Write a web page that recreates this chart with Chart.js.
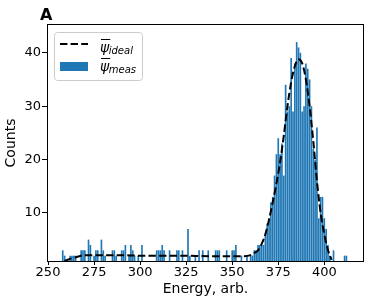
<!DOCTYPE html>
<html>
<head>
<meta charset="utf-8">
<script src="https://cdn.jsdelivr.net/npm/chart.js@4"></script>
<style>
  html, body { margin: 0; padding: 0; background: #fff; }
</style>
</head>
<body>
<canvas id="myChart" width="373" height="304"></canvas>
<script>
// histogram bins (energy, counts)
var binEnergy = [
    258, 259, 262, 263, 264, 265, 268, 269, 270, 272,
    273, 275, 276, 277, 279, 280, 281, 285, 286, 287,
    290, 291, 292, 294, 295, 296, 297, 299, 301, 309,
    310, 311, 312, 313, 316, 320, 321, 323, 326, 327,
    330, 332, 334, 337, 341, 342, 343, 347, 350, 351,
    352, 355, 358, 360, 361, 362, 363, 364, 365, 366,
    367, 368, 369, 370, 371, 372, 373, 374, 375, 376,
    377, 378, 379, 380, 381, 382, 383, 384, 385, 386,
    387, 388, 389, 390, 391, 392, 393, 394, 395, 396,
    397, 398, 399, 400, 401, 402, 403, 405, 411, 412
];
var binCount = [
    3, 2, 2, 2, 2, 2, 3, 3, 3, 5,
    4, 2, 3, 3, 5, 3, 2, 3, 3, 2,
    3, 3, 4, 2, 4, 3, 2, 2, 4, 3,
    3, 3, 4, 3, 3, 3, 3, 3, 7, 2,
    2, 3, 3, 3, 3, 3, 3, 3, 3, 3,
    4, 2, 2, 2, 2, 3, 3, 4, 4, 4,
    4, 6, 8, 9, 12, 13, 17, 21, 24, 21,
    23, 17, 34, 29, 30, 39, 29, 38, 42, 41,
    40, 29, 30, 38, 37, 35, 30, 22, 20, 26,
    9, 13, 13, 9, 7, 4, 2, 3, 2, 2
];

// ideal curve (dashed)
var idealEnergy = [259, 262, 266, 270, 280, 290, 300, 310, 320, 330, 340, 350, 356, 360, 362, 364, 366, 368,
    370, 372, 374, 376, 378, 380, 382, 384, 386, 388, 390, 392, 394, 396, 398, 400, 402, 404];
var idealValue = [1.0, 1.4, 1.8, 2.1, 2.1, 2.1, 2.0, 2.0, 2.0, 1.95, 1.9, 1.9, 1.9, 2.1, 2.5, 3.0, 4.2, 6.0,
    8.8, 12, 15.5, 19.5, 24.5, 30, 34.5, 37.5, 38.8, 38, 35, 30, 23.5, 16, 10, 6, 3, 1.2];

var FONT = 'DejaVu Sans';
var barColor = '#1f77b4';
var dash = [7.4, 3.2];

function drawPsi(ctx, x, y, sub) {
    ctx.fillStyle = '#000';
    ctx.font = 'italic 14px "' + FONT + '"';
    ctx.fillText('ψ', x, y);
    var w = ctx.measureText('ψ').width;
    ctx.fillRect(x + 1, y - 13, w, 1);
    ctx.font = 'italic 10px "' + FONT + '"';
    ctx.fillText(sub, x + w - 0.5, y + 2);
}

var extras = {
    id: 'extras',
    afterDatasetsDraw: function (chart) {
        var ctx = chart.ctx, a = chart.chartArea;
        ctx.save();
        // frame
        ctx.strokeStyle = '#000';
        ctx.lineWidth = 1;
        ctx.strokeRect(a.left - 0.5, a.top - 0.5, a.right - a.left + 1, a.bottom - a.top + 1);

        // panel letter
        ctx.fillStyle = '#000';
        ctx.textAlign = 'left';
        ctx.textBaseline = 'alphabetic';
        ctx.font = 'bold 16px "' + FONT + '"';
        ctx.fillText('A', 40, 20);

        // legend
        ctx.beginPath();
        if (ctx.roundRect) ctx.roundRect(54.5, 32.5, 88, 48, 3);
        else ctx.rect(54.5, 32.5, 88, 48);
        ctx.fillStyle = 'rgba(255,255,255,0.8)';
        ctx.fill();
        ctx.strokeStyle = '#cccccc';
        ctx.stroke();

        ctx.setLineDash(dash);
        ctx.strokeStyle = '#000';
        ctx.lineWidth = 2;
        ctx.beginPath();
        ctx.moveTo(60, 44);
        ctx.lineTo(88, 44);
        ctx.stroke();
        ctx.setLineDash([]);

        ctx.fillStyle = barColor;
        ctx.fillRect(60, 62, 28, 9);

        drawPsi(ctx, 100, 52, 'ideal');
        drawPsi(ctx, 100, 71, 'meas');
        ctx.restore();
    }
};

var ctx = document.getElementById('myChart').getContext('2d');
var myChart = new Chart(ctx, {
    type: 'bar',
    data: {
        datasets: [{
            type: 'line',
            label: 'ψ ideal',
            data: idealEnergy.map(function (e, i) { return {x: e, y: idealValue[i]}; }),
            borderColor: '#000',
            borderWidth: 2,
            borderDash: dash,
            pointRadius: 0,
            fill: false,
            cubicInterpolationMode: 'monotone',
            order: 0
        }, {
            type: 'bar',
            label: 'ψ meas',
            data: binEnergy.map(function (e, i) { return {x: e, y: binCount[i]}; }),
            backgroundColor: barColor,
            borderWidth: 0,
            barPercentage: 0.9,
            categoryPercentage: 1,
            order: 1
        }]
    },
    options: {
        responsive: false,
        animation: false,
        devicePixelRatio: 1,
        layout: {padding: {top: 25, right: 10, left: 0, bottom: 0}},
        plugins: {
            legend: {display: false},
            tooltip: {enabled: false}
        },
        scales: {
            x: {
                type: 'linear',
                min: 250,
                max: 421,
                offset: false,
                afterFit: function (s) { s.height = 43; },
                grid: {display: true, offset: false, drawOnChartArea: false, drawTicks: true, tickLength: 4, color: '#000'},
                border: {display: false},
                ticks: {stepSize: 25, includeBounds: false, padding: 0, color: '#000', maxRotation: 0,
                    font: {family: FONT, size: 13}},
                title: {display: true, text: 'Energy, arb.', color: '#000',
                    font: {family: FONT, size: 14}, padding: {top: 0, bottom: 6}}
            },
            y: {
                min: 1,
                max: 45.2,
                afterFit: function (s) { s.width = 48; },
                grid: {display: true, drawOnChartArea: false, drawTicks: true, tickLength: 6, color: '#000'},
                border: {display: false},
                ticks: {stepSize: 10, includeBounds: false, padding: 1, color: '#000',
                    font: {family: FONT, size: 13}},
                title: {display: true, text: 'Counts', color: '#000',
                    font: {family: FONT, size: 14}, padding: {top: 3, bottom: 0}}
            }
        }
    },
    plugins: [extras]
});
</script>
</body>
</html>
